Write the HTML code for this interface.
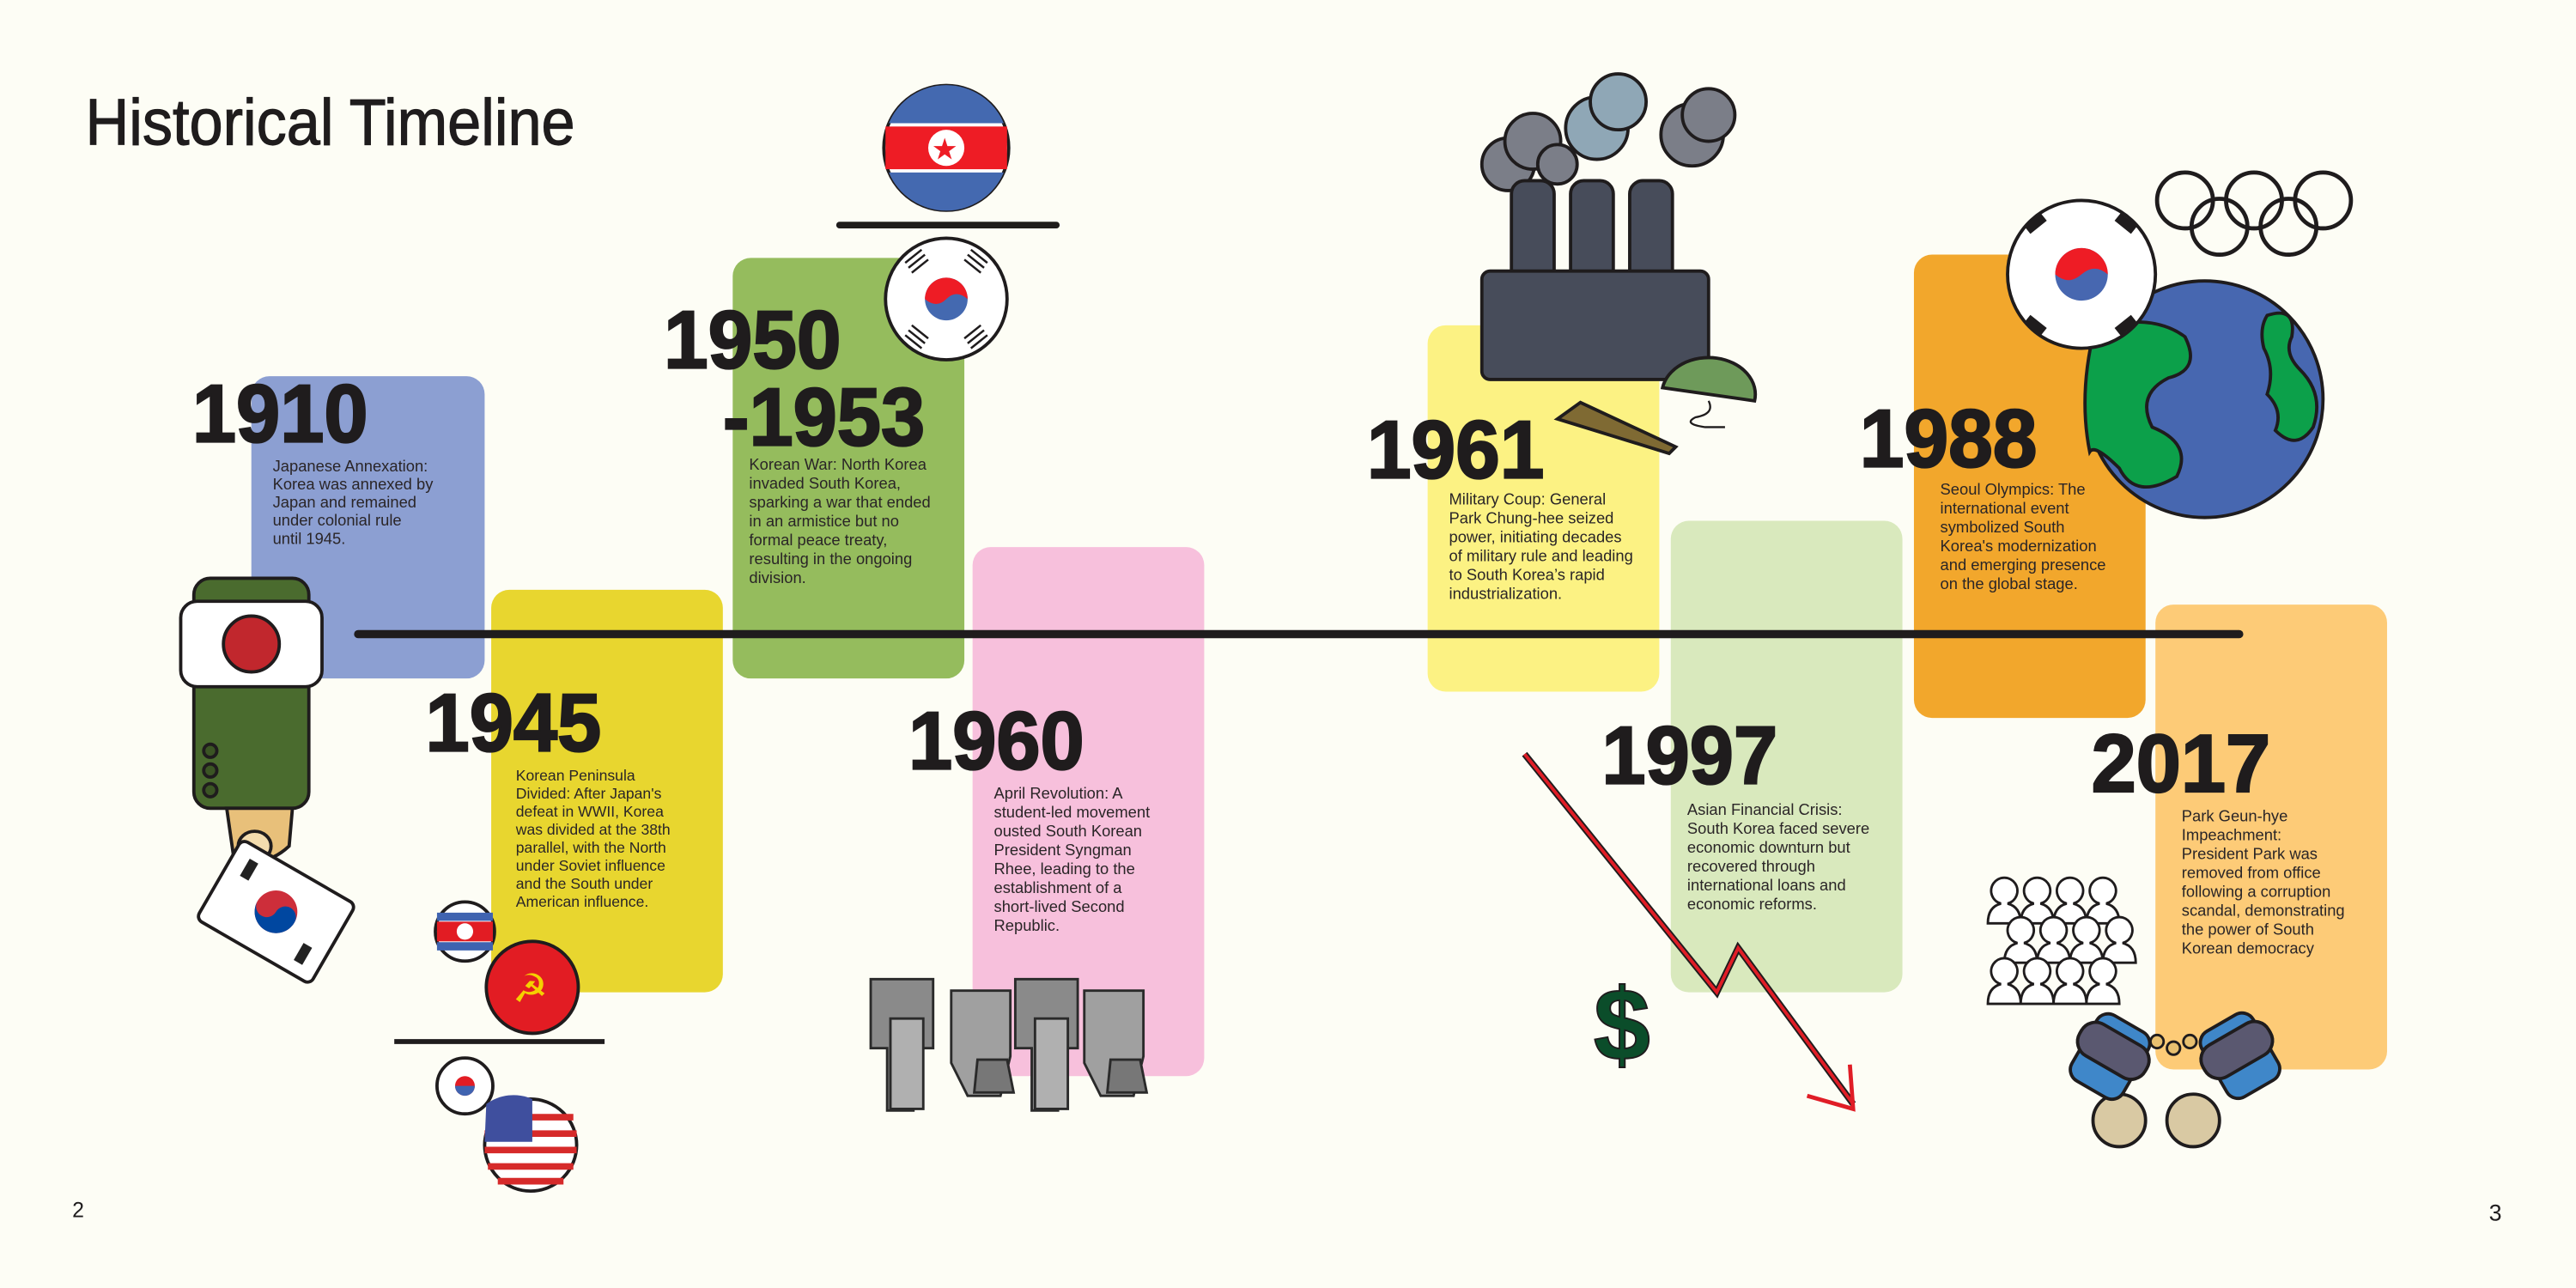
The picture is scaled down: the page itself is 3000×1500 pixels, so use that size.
<!DOCTYPE html>
<html><head><meta charset="utf-8"><style>
html,body{margin:0;padding:0;background:#fdfdf5;}
svg{display:block;}
text{font-family:"Liberation Sans",sans-serif;}
.yr{font-weight:bold;font-size:50px;fill:#1f1c1d;stroke:#1f1c1d;stroke-width:1.2;}
.bd{font-size:9.6px;fill:#2a2527;}
.ol{stroke:#1f1c1d;stroke-width:2;}
</style></head><body>
<svg width="3000" height="1500" viewBox="0 0 1568 784" xmlns="http://www.w3.org/2000/svg">
<rect width="1568" height="784" fill="#fdfdf5"/>
<text x="52" y="88" font-size="40" fill="#1f1c1d" stroke="#1f1c1d" stroke-width="0.6" textLength="298" lengthAdjust="spacingAndGlyphs">Historical Timeline</text>

<g>
<rect x="153" y="229" width="142" height="184" rx="11" fill="#8c9fd2"/>
<rect x="299" y="359" width="141" height="245" rx="11" fill="#e8d62f"/>
<rect x="446" y="157" width="141" height="256" rx="11" fill="#95bc5d"/>
<rect x="592" y="333" width="141" height="322" rx="11" fill="#f7c0dc"/>
<rect x="869" y="198" width="141" height="223" rx="11" fill="#fcf283"/>
<rect x="1017" y="317" width="141" height="287" rx="11" fill="#d9e9bd"/>
<rect x="1165" y="155" width="141" height="282" rx="11" fill="#f2a72c"/>
<rect x="1312" y="368" width="141" height="283" rx="11" fill="#fdcb77"/>
</g>

<line x1="218" y1="386" x2="1363" y2="386" stroke="#1f1c1d" stroke-width="5" stroke-linecap="round"/>

<text class="yr" x="117" y="269" textLength="107" lengthAdjust="spacingAndGlyphs">1910</text>
<text class="yr" x="259" y="457" textLength="107" lengthAdjust="spacingAndGlyphs">1945</text>
<text class="yr" x="404" y="224" textLength="108" lengthAdjust="spacingAndGlyphs">1950</text>
<text class="yr" x="440" y="271" textLength="123" lengthAdjust="spacingAndGlyphs">-1953</text>
<text class="yr" x="553" y="468" textLength="107" lengthAdjust="spacingAndGlyphs">1960</text>
<text class="yr" x="832" y="291" textLength="108" lengthAdjust="spacingAndGlyphs">1961</text>
<text class="yr" x="1132" y="284" textLength="108" lengthAdjust="spacingAndGlyphs">1988</text>
<text class="yr" x="975" y="477" textLength="107" lengthAdjust="spacingAndGlyphs">1997</text>
<text class="yr" x="1273" y="482" textLength="109" lengthAdjust="spacingAndGlyphs">2017</text>

<text class="bd" font-size="8.6"><tspan x="166" y="287">Japanese Annexation:</tspan><tspan x="166" dy="11">Korea was annexed by</tspan><tspan x="166" dy="11">Japan and remained</tspan><tspan x="166" dy="11">under colonial rule</tspan><tspan x="166" dy="11">until 1945.</tspan></text>
<text class="bd" style="font-size:9.2px"><tspan x="314" y="475">Korean Peninsula</tspan><tspan x="314" dy="11">Divided: After Japan's</tspan><tspan x="314" dy="11">defeat in WWII, Korea</tspan><tspan x="314" dy="11">was divided at the 38th</tspan><tspan x="314" dy="11">parallel, with the North</tspan><tspan x="314" dy="11">under Soviet influence</tspan><tspan x="314" dy="11">and the South under</tspan><tspan x="314" dy="11">American influence.</tspan></text>
<text class="bd"><tspan x="456" y="286">Korean War: North Korea</tspan><tspan x="456" dy="11.5">invaded South Korea,</tspan><tspan x="456" dy="11.5">sparking a war that ended</tspan><tspan x="456" dy="11.5">in an armistice but no</tspan><tspan x="456" dy="11.5">formal peace treaty,</tspan><tspan x="456" dy="11.5">resulting in the ongoing</tspan><tspan x="456" dy="11.5">division.</tspan></text>
<text class="bd"><tspan x="605" y="486">April Revolution: A</tspan><tspan x="605" dy="11.5">student-led movement</tspan><tspan x="605" dy="11.5">ousted South Korean</tspan><tspan x="605" dy="11.5">President Syngman</tspan><tspan x="605" dy="11.5">Rhee, leading to the</tspan><tspan x="605" dy="11.5">establishment of a</tspan><tspan x="605" dy="11.5">short-lived Second</tspan><tspan x="605" dy="11.5">Republic.</tspan></text>
<text class="bd"><tspan x="882" y="307">Military Coup: General</tspan><tspan x="882" dy="11.5">Park Chung-hee seized</tspan><tspan x="882" dy="11.5">power, initiating decades</tspan><tspan x="882" dy="11.5">of military rule and leading</tspan><tspan x="882" dy="11.5">to South Korea’s rapid</tspan><tspan x="882" dy="11.5">industrialization.</tspan></text>
<text class="bd"><tspan x="1027" y="496">Asian Financial Crisis:</tspan><tspan x="1027" dy="11.5">South Korea faced severe</tspan><tspan x="1027" dy="11.5">economic downturn but</tspan><tspan x="1027" dy="11.5">recovered through</tspan><tspan x="1027" dy="11.5">international loans and</tspan><tspan x="1027" dy="11.5">economic reforms.</tspan></text>
<text class="bd"><tspan x="1181" y="301">Seoul Olympics: The</tspan><tspan x="1181" dy="11.5">international event</tspan><tspan x="1181" dy="11.5">symbolized South</tspan><tspan x="1181" dy="11.5">Korea's modernization</tspan><tspan x="1181" dy="11.5">and emerging presence</tspan><tspan x="1181" dy="11.5">on the global stage.</tspan></text>
<text class="bd"><tspan x="1328" y="500">Park Geun-hye</tspan><tspan x="1328" dy="11.5">Impeachment:</tspan><tspan x="1328" dy="11.5">President Park was</tspan><tspan x="1328" dy="11.5">removed from office</tspan><tspan x="1328" dy="11.5">following a corruption</tspan><tspan x="1328" dy="11.5">scandal, demonstrating</tspan><tspan x="1328" dy="11.5">the power of South</tspan><tspan x="1328" dy="11.5">Korean democracy</tspan></text>

<g>
<rect x="118" y="352" width="70" height="140" rx="10" fill="#4a6b2e" class="ol"/>
<rect x="110" y="366" width="86" height="52" rx="10" fill="#fff" class="ol"/>
<ellipse cx="153" cy="392" rx="17" ry="17" fill="#c1272d" class="ol"/>
<circle cx="128" cy="457" r="4" fill="#3b5524" class="ol"/><circle cx="128" cy="469" r="4" fill="#3b5524" class="ol"/><circle cx="128" cy="481" r="4" fill="#3b5524" class="ol"/>
<path d="M138 492 L178 492 L176 515 Q160 530 142 520 Z" fill="#e8c07a" class="ol"/>
<ellipse cx="155" cy="515" rx="10" ry="9" fill="#f3dcae" class="ol"/>
<g transform="rotate(30 168 555)"><rect x="128" y="527" width="80" height="56" rx="4" fill="#fff" class="ol"/><circle cx="168" cy="555" r="13" fill="#cd2e3a"/><path d="M155 555 A13 13 0 0 0 181 555 A6.5 6.5 0 0 0 168 555 A6.5 6.5 0 0 1 155 555Z" fill="#0047a0"/><rect x="138" y="535" width="6" height="12" fill="#222"/><rect x="192" y="563" width="6" height="12" fill="#222"/></g>
</g>

<g>
<circle cx="283" cy="567" r="18" fill="#fff" class="ol"/><path d="M266 558 H300 M266 576 H300" stroke="#3f63b0" stroke-width="5"/><rect x="266" y="561" width="34" height="12" fill="#e21c23"/><circle cx="283" cy="567" r="5" fill="#fff"/>
<circle cx="324" cy="601" r="28" fill="#e21c23" class="ol"/><text x="312" y="610" font-size="24" fill="#f5d000">☭</text>
<line x1="240" y1="634" x2="368" y2="634" stroke="#1f1c1d" stroke-width="3"/>
<circle cx="283" cy="661" r="17" fill="#fff" class="ol"/><circle cx="283" cy="661" r="6" fill="#e21c23"/><path d="M277 661 A6 6 0 0 0 289 661Z" fill="#3f63b0"/>
<circle cx="323" cy="697" r="28" fill="#fff" class="ol"/>
<path d="M297 680 H349 M295 690 H351 M295 700 H351 M297 710 H349 M303 719 H343" stroke="#d62a2a" stroke-width="4"/>
<path d="M296 672 A28 28 0 0 1 324 669 L324 695 L295 695 Z" fill="#3f4f9e"/>
</g>

<g>
<circle cx="576" cy="90" r="38" fill="#fff" class="ol"/>
<path d="M541 75 A38 38 0 0 1 611 75 Z" fill="#4469b0"/><path d="M541 105 A38 38 0 0 0 611 105 Z" fill="#4469b0"/>
<rect x="539" y="77" width="74" height="26" fill="#ee1c25"/><circle cx="576" cy="90" r="11" fill="#fff"/><text x="567" y="97" font-size="18" fill="#ee1c25">★</text>
<line x1="511" y1="137" x2="643" y2="137" stroke="#1f1c1d" stroke-width="4" stroke-linecap="round"/>
<circle cx="576" cy="182" r="37" fill="#fff" class="ol"/>
<circle cx="576" cy="182" r="13" fill="#4469b0"/><path d="M563 182 A13 13 0 0 1 589 182 Q582 176 576 182 Q570 188 563 182Z" fill="#ee1c25"/>
<path d="M551 160 l10 -8 M553 163 l10 -8 M555 166 l10 -8 M591 152 l10 8 M589 155 l10 8 M587 158 l10 8 M551 204 l10 8 M553 201 l10 8 M555 198 l10 8 M591 212 l10 -8 M589 209 l10 -8 M587 206 l10 -8" stroke="#1f1c1d" stroke-width="1.3"/>
</g>

<g fill="#9a9a9a" stroke="#2a2a2a" stroke-width="1.5">
<path d="M530 596 h38 v42 h-12 v38 h-16 v-38 h-10 Z" fill="#8a8a8a"/><path d="M542 620 h20 v55 h-20Z" fill="#b0b0b0"/>
<path d="M579 603 h36 v40 l-6 24 h-20 l-10 -20Z" fill="#a0a0a0"/><path d="M595 645 h18 l4 20 h-24Z" fill="#777"/>
<path d="M618 596 h38 v42 h-12 v38 h-16 v-38 h-10 Z" fill="#8a8a8a"/><path d="M630 620 h20 v55 h-20Z" fill="#b0b0b0"/>
<path d="M660 603 h36 v40 l-6 24 h-20 l-10 -20Z" fill="#a0a0a0"/><path d="M676 645 h18 l4 20 h-24Z" fill="#777"/>
</g>

<g>
<circle cx="918" cy="100" r="16" fill="#7b7e88" class="ol"/><circle cx="933" cy="86" r="17" fill="#7b7e88" class="ol"/><circle cx="948" cy="100" r="12" fill="#7b7e88" class="ol"/>
<circle cx="972" cy="78" r="19" fill="#8fa7b6" class="ol"/><circle cx="985" cy="62" r="17" fill="#8fa7b6" class="ol"/>
<circle cx="1030" cy="82" r="19" fill="#7b7e88" class="ol"/><circle cx="1040" cy="70" r="16" fill="#7b7e88" class="ol"/>
<rect x="920" y="110" width="26" height="70" rx="8" fill="#474c5a" class="ol"/>
<rect x="956" y="110" width="26" height="70" rx="8" fill="#474c5a" class="ol"/>
<rect x="992" y="110" width="26" height="70" rx="8" fill="#474c5a" class="ol"/>
<rect x="902" y="165" width="138" height="66" rx="5" fill="#474c5a" class="ol"/>
<path d="M1012 236 A28 22 0 0 1 1068 244 Z" fill="#6e9a5a" class="ol"/>
<path d="M1040 244 q4 8 -8 10 q-8 4 6 6 h12" fill="none" stroke="#1f1c1d" stroke-width="1.2"/>
<path d="M948 255 L962 245 L1020 272 L1016 276 Z" fill="#7f6a33" class="ol" stroke-width="1.5"/>
</g>

<polyline points="928,459 1045,604 1058,577 1128,672" fill="none" stroke="#1f1c1d" stroke-width="4"/>
<polyline points="928,459 1045,604 1058,577 1128,672" fill="none" stroke="#e01d26" stroke-width="2"/>
<path d="M1100 667 L1128 675 L1126 648" fill="none" stroke="#e01d26" stroke-width="2.5"/>
<text x="970" y="645" font-size="62" font-weight="bold" fill="#0b4d2a" stroke="#1f1c1d" stroke-width="1">$</text>

<g fill="none" stroke="#1f1c1d" stroke-width="2.5">
<circle cx="1330" cy="122" r="17"/><circle cx="1372" cy="122" r="17"/><circle cx="1414" cy="122" r="17"/><circle cx="1351" cy="138" r="17"/><circle cx="1393" cy="138" r="17"/>
</g>
<g>
<circle cx="1342" cy="243" r="72" fill="#4767b0" class="ol"/>
<path d="M1275 200 Q1310 190 1330 205 Q1340 225 1320 230 Q1300 240 1310 260 Q1335 270 1325 290 Q1300 305 1290 285 Q1275 270 1272 275 Q1265 240 1275 200Z" fill="#0ca04a" class="ol"/>
<path d="M1380 192 Q1398 186 1395 205 Q1390 215 1400 225 Q1415 240 1408 260 Q1398 275 1385 262 Q1390 250 1380 240 Q1385 225 1378 212 Q1375 200 1380 192Z" fill="#0ca04a" class="ol"/>
</g>
<g>
<circle cx="1267" cy="167" r="45" fill="#fff" class="ol"/>
<circle cx="1267" cy="167" r="16" fill="#4767b0"/><path d="M1251 167 A16 16 0 0 1 1283 167 Q1275 160 1267 167 Q1259 174 1251 167Z" fill="#ee1c25"/>
<path d="M1234 140 l10 -8 M1289 132 l10 8 M1234 194 l10 8 M1289 202 l10 -8" stroke="#1f1c1d" stroke-width="6"/>
</g>

<g fill="#fff" stroke="#1f1c1d" stroke-width="1.5">
<path d="M1210 562 q0 -10 8 -12 a8 8 0 1 1 4 0 q8 2 8 12 Z"/><path d="M1230 562 q0 -10 8 -12 a8 8 0 1 1 4 0 q8 2 8 12 Z"/><path d="M1250 562 q0 -10 8 -12 a8 8 0 1 1 4 0 q8 2 8 12 Z"/><path d="M1270 562 q0 -10 8 -12 a8 8 0 1 1 4 0 q8 2 8 12 Z"/>
<path d="M1220 586 q0 -10 8 -12 a8 8 0 1 1 4 0 q8 2 8 12 Z"/><path d="M1240 586 q0 -10 8 -12 a8 8 0 1 1 4 0 q8 2 8 12 Z"/><path d="M1260 586 q0 -10 8 -12 a8 8 0 1 1 4 0 q8 2 8 12 Z"/><path d="M1280 586 q0 -10 8 -12 a8 8 0 1 1 4 0 q8 2 8 12 Z"/>
<path d="M1210 611 q0 -10 8 -12 a8 8 0 1 1 4 0 q8 2 8 12 Z"/><path d="M1230 611 q0 -10 8 -12 a8 8 0 1 1 4 0 q8 2 8 12 Z"/><path d="M1250 611 q0 -10 8 -12 a8 8 0 1 1 4 0 q8 2 8 12 Z"/><path d="M1270 611 q0 -10 8 -12 a8 8 0 1 1 4 0 q8 2 8 12 Z"/>
</g>
<g>
<circle cx="1290" cy="682" r="16" fill="#d9c9a3" class="ol"/><circle cx="1335" cy="682" r="16" fill="#d9c9a3" class="ol"/>
<g transform="rotate(30 1285 640)"><rect x="1268" y="620" width="36" height="46" rx="8" fill="#3f87c9" class="ol"/><rect x="1263" y="628" width="46" height="22" rx="10" fill="#5a5870" class="ol"/></g>
<g transform="rotate(-30 1362 640)"><rect x="1344" y="620" width="36" height="46" rx="8" fill="#3f87c9" class="ol"/><rect x="1339" y="628" width="46" height="22" rx="10" fill="#5a5870" class="ol"/></g>
<g fill="none" stroke="#1f1c1d" stroke-width="1.5"><circle cx="1313" cy="634" r="4" fill="#e8c070"/><circle cx="1323" cy="638" r="4" fill="#e8c070"/><circle cx="1333" cy="634" r="4" fill="#e8c070"/></g>
</g>

<text x="44" y="741" font-size="13" fill="#1f1c1d">2</text>
<text x="1515" y="743" font-size="14" fill="#1f1c1d">3</text>
</svg>
</body></html>
